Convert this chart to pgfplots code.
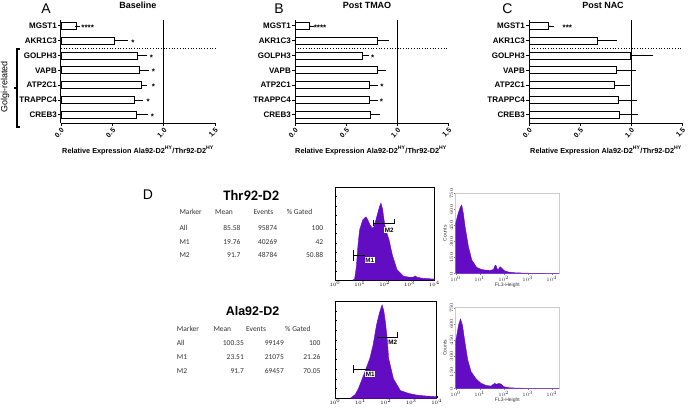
\documentclass[border=0pt]{standalone}
\usepackage{pgfplots}
\pgfplotsset{compat=1.18}
\usepackage{fontspec}
\setmainfont{Liberation Sans}
\newfontfamily\carl{Carlito}
\definecolor{purp}{RGB}{98,12,196}
\tikzset{sstar/.style={font=\fontsize{8}{9}\selectfont\bfseries, yshift=-1.8pt, inner sep=0pt},
 mlab/.style={fill=white, inner sep=0.7pt, font=\bfseries\fontsize{6.3}{6.3}\selectfont}}
\begin{document}
\begin{tikzpicture}
\path[use as bounding box] (0,0) rectangle (693pt,408pt);
\pgfplotsset{
 barpanel/.style={
  scale only axis, width=154pt, height=103pt, anchor=south west,
  xmin=0, xmax=1.5, ymin=-0.55, ymax=6.4,
  axis x line*=bottom, axis y line*=left,
  xtick={0,0.5,1,1.5}, xticklabels={0.0,0.5,1.0,1.5},
  ytick={0,...,6}, yticklabels={CREB3,TRAPPC4,ATP2C1,VAPB,GOLPH3,AKR1C3,MGST1},
  tick align=outside, major tick length=3pt,
  tick style={black, line width=0.9pt},
  axis line style={line width=1pt, -},
  x tick label style={rotate=45, anchor=north east, font=\fontsize{7}{8}\selectfont\bfseries, inner sep=1pt},
  y tick label style={font=\fontsize{8}{9}\selectfont\bfseries, inner sep=1pt},
  clip=false},
 bars/.style={xbar, bar width=0.48, fill=white, draw=black, line width=0.9pt,
  error bars/.cd, x dir=plus, x explicit,
  error bar style={line width=0.8pt, black},
  error mark options={black, mark size=2.2pt, line width=0.8pt}},
 lhist/.style={scale only axis, anchor=south west, xmin=0, xmax=4, ymin=0, ymax=100,
  xtick={0,...,4}, xticklabels={$10^0$,$10^1$,$10^2$,$10^3$,$10^4$},
  ytick={10,20,...,90}, yticklabels={}, ytick pos=left, xtick pos=bottom,
  tick align=inside, major tick length=2pt, tick style={black, line width=0.4pt},
  axis line style={black, line width=0.6pt},
  x tick label style={font=\fontsize{5.5}{6}\selectfont, inner sep=1pt}},
 rhist/.style={scale only axis, anchor=south west, xmin=0, xmax=4.3, ymin=0, ymax=750,
  xtick={0,...,4}, xticklabels={$10^0$,$10^1$,$10^2$,$10^3$,$10^4$},
  ytick={0,150,...,750}, ytick pos=left, xtick pos=bottom,
  tick align=outside, major tick length=1.5pt, tick style={gray, line width=0.3pt},
  axis line style={gray!40, line width=0.5pt},
  x tick label style={font=\fontsize{5}{5.5}\selectfont, text=black!80, inner sep=0.8pt},
  y tick label style={font=\fontsize{5}{5.5}\selectfont, text=black!80, rotate=90, anchor=south, inner sep=0.8pt},
  xlabel={FL3-Height}, ylabel={Counts},
  label style={font=\fontsize{5}{5.5}\selectfont, text=black!80},
  xlabel style={yshift=2.5pt}, ylabel style={yshift=-1pt}},
}
% ---------- Panel A ----------
\begin{axis}[barpanel, at={(61pt,285pt)}]
\addplot[bars] coordinates {(0.15,6) +- (0.012,0) (0.52,5) +- (0.11,0) (0.745,4) +- (0.075,0) (0.76,3) +- (0.08,0) (0.78,2) +- (0.04,0) (0.72,1) +- (0.06,0) (0.735,0) +- (0.095,0)};
\draw[line width=1.1pt] (axis cs:1,-0.55) -- (axis cs:1,6.4);
\draw[dotted, line width=0.7pt] (axis cs:0,4.5) -- (axis cs:1.5,4.5);
\node[sstar] at (axis cs:0.26,6) {****};
\node[sstar] at (axis cs:0.70,5) {*};
\node[sstar] at (axis cs:0.88,4) {*};
\node[sstar] at (axis cs:0.90,3) {*};
\node[sstar] at (axis cs:0.90,2) {*};
\node[sstar] at (axis cs:0.85,1) {*};
\node[sstar] at (axis cs:0.89,0) {*};
\end{axis}
% ---------- Panel B ----------
\begin{axis}[barpanel, at={(295pt,285pt)}, width=153.5pt]
\addplot[bars] coordinates {(0.14,6) +- (0.02,0) (0.805,5) +- (0.088,0) (0.655,4) +- (0.045,0) (0.805,3) +- (0.065,0) (0.725,2) +- (0.06,0) (0.725,1) +- (0.065,0) (0.742,0) +- (0.07,0)};
\draw[line width=1.1pt] (axis cs:1,-0.55) -- (axis cs:1,6.4);
\draw[dotted, line width=0.7pt] (axis cs:0,4.5) -- (axis cs:1.5,4.5);
\node[sstar] at (axis cs:0.245,6) {****};
\node[sstar] at (axis cs:0.76,4) {*};
\node[sstar] at (axis cs:0.85,2) {*};
\node[sstar] at (axis cs:0.845,1) {*};
\end{axis}
% ---------- Panel C ----------
\begin{axis}[barpanel, at={(529pt,285pt)}, width=153.3pt]
\addplot[bars] coordinates {(0.19,6) +- (0.03,0) (0.67,5) +- (0.17,0) (0.99,4) +- (0.2,0) (0.86,3) +- (0.17,0) (0.835,2) +- (0.13,0) (0.88,1) +- (0.16,0) (0.886,0) +- (0.16,0)};
\draw[line width=1.1pt] (axis cs:1,-0.55) -- (axis cs:1,6.4);
\draw[dotted, line width=0.7pt] (axis cs:0,4.5) -- (axis cs:1.5,4.5);
\node[sstar] at (axis cs:0.375,6) {***};
\end{axis}
% titles, letters, x labels
\node[font=\fontsize{14}{15}\selectfont] at (46pt,399.5pt) {A};
\node[font=\fontsize{14}{15}\selectfont] at (279pt,399.5pt) {B};
\node[font=\fontsize{14}{15}\selectfont] at (507.5pt,399.5pt) {C};
\node[font=\fontsize{9}{10}\selectfont\bfseries] at (137.8pt,403pt) {Baseline};
\node[font=\fontsize{9}{10}\selectfont\bfseries] at (367pt,403pt) {Post TMAO};
\node[font=\fontsize{9}{10}\selectfont\bfseries] at (603pt,403pt) {Post NAC};
\foreach \cx in {138,371,606}{
 \node[font=\fontsize{7.3}{8}\selectfont\bfseries] at (\cx pt,257.5pt) {Relative Expression Ala92-D2\textsuperscript{HY}/Thr92-D2\textsuperscript{HY}};
}
% Golgi bracket
\draw[line width=1.3pt] (20pt,359pt) -- (17pt,359pt) -- (17pt,281pt) -- (20pt,281pt);
\draw[line width=1.3pt] (17pt,320pt) -- (13.5pt,320pt);
\node[rotate=90, font=\fontsize{9}{10}\selectfont] at (5pt,321pt) {Golgi-related};
% ---------- Panel D text ----------
\node[font=\fontsize{14}{15}\selectfont] at (148pt,213pt) {D};
\node[font=\carl\bfseries\fontsize{14.5}{15}\selectfont] at (251.3pt,213pt) {Thr92-D2};
\node[font=\bfseries\fontsize{12.5}{13}\selectfont] at (252.5pt,97.2pt) {Ala92-D2};
\begin{scope}[every node/.style={font=\carl\fontsize{7.5}{8}\selectfont, inner sep=0pt, text=black!80}]
 \node[anchor=west] at (179.3pt,196.3pt) {Marker};
 \node[anchor=west] at (215pt,196.3pt) {Mean};
 \node[anchor=west] at (253.3pt,196.3pt) {Events};
 \node[anchor=west] at (286.7pt,196.3pt) {\% Gated};
 \node[anchor=west] at (179.3pt,179.7pt) {All};
 \node[anchor=west] at (179.3pt,166.3pt) {M1};
 \node[anchor=west] at (179.3pt,153pt) {M2};
 \node[anchor=east] at (240.7pt,179.7pt) {85.58};
 \node[anchor=east] at (240.7pt,166.3pt) {19.76};
 \node[anchor=east] at (240.7pt,153pt) {91.7};
 \node[anchor=east] at (277.3pt,179.7pt) {95874};
 \node[anchor=east] at (277.3pt,166.3pt) {40269};
 \node[anchor=east] at (277.3pt,153pt) {48784};
 \node[anchor=east] at (323.3pt,179.7pt) {100};
 \node[anchor=east] at (323.3pt,166.3pt) {42};
 \node[anchor=east] at (323.3pt,153pt) {50.88};
 \node[anchor=west] at (176.7pt,78.7pt) {Marker};
 \node[anchor=west] at (213.3pt,78.7pt) {Mean};
 \node[anchor=west] at (246pt,78.7pt) {Events};
 \node[anchor=west] at (285pt,78.7pt) {\% Gated};
 \node[anchor=west] at (176.7pt,64.7pt) {All};
 \node[anchor=west] at (176.7pt,50.7pt) {M1};
 \node[anchor=west] at (176.7pt,37.3pt) {M2};
 \node[anchor=east] at (244pt,64.7pt) {100.35};
 \node[anchor=east] at (244pt,50.7pt) {23.51};
 \node[anchor=east] at (244pt,37.3pt) {91.7};
 \node[anchor=east] at (284pt,64.7pt) {99149};
 \node[anchor=east] at (284pt,50.7pt) {21075};
 \node[anchor=east] at (284pt,37.3pt) {69457};
 \node[anchor=east] at (320.7pt,64.7pt) {100};
 \node[anchor=east] at (320.7pt,50.7pt) {21.26};
 \node[anchor=east] at (320.7pt,37.3pt) {70.05};
\end{scope}
% ---------- Histograms left ----------
\begin{axis}[lhist, at={(335pt,128pt)}, width=99.3pt, height=92.7pt]
\addplot[fill=purp, draw=purp] coordinates {(0.72,0) (0.79,1) (0.86,14) (0.92,36) (0.99,54) (1.12,65) (1.2,67) (1.25,68) (1.32,65) (1.4,60) (1.5,56) (1.56,57) (1.63,63) (1.7,70) (1.78,78) (1.85,83) (1.92,76) (2.0,60) (2.05,54) (2.18,43) (2.31,27) (2.5,11) (2.77,4) (3.0,3) (3.15,3) (3.23,4.5) (3.3,3) (3.5,2) (4.0,1)} \closedcycle;
\draw[line width=0.7pt] (axis cs:0.73,21) -- (axis cs:0.73,32);
\draw[line width=0.7pt] (axis cs:0.73,27) -- (axis cs:1.19,27);
\node[mlab] at (axis cs:1.40,21.6) {M1};
\draw[line width=0.7pt] (axis cs:1.56,58) -- (axis cs:1.56,65);
\draw[line width=0.7pt] (axis cs:1.56,61) -- (axis cs:2.38,61) -- (axis cs:2.38,65.5);
\node[mlab] at (axis cs:2.19,54) {M2};
\end{axis}
\begin{axis}[lhist, at={(335pt,9.7pt)}, width=101.7pt, height=97.3pt]
\addplot[fill=purp, draw=purp] coordinates {(0.6,0) (0.8,4) (0.92,10) (1.1,22) (1.37,41) (1.5,55) (1.63,75) (1.75,88) (1.85,96) (1.92,90) (1.98,79) (2.05,62) (2.11,41) (2.3,20) (2.57,8) (2.9,5) (3.2,3.4) (3.5,2.5) (4.0,1.7)} \closedcycle;
\draw[line width=0.7pt] (axis cs:0.73,26) -- (axis cs:0.73,34);
\draw[line width=0.7pt] (axis cs:0.73,30) -- (axis cs:1.37,30);
\node[mlab] at (axis cs:1.39,24.7) {M1};
\draw[line width=0.7pt] (axis cs:1.65,62.7) -- (axis cs:2.44,62.7) -- (axis cs:2.44,68);
\node[mlab] at (axis cs:2.27,57.5) {M2};
\end{axis}
% ---------- Histograms right ----------
\begin{axis}[rhist, at={(455.7pt,134.7pt)}, width=103.3pt, height=80pt]
\addplot[fill=purp, draw=purp] coordinates {(0,469) (0.1,560) (0.2,625) (0.25,640) (0.32,560) (0.39,437) (0.53,250) (0.67,125) (0.87,56) (1.05,38) (1.22,30) (1.45,28) (1.57,35) (1.63,70) (1.67,78) (1.72,45) (1.76,32) (1.85,62) (1.95,40) (2.04,22) (2.2,12) (2.47,5) (3.0,1) (4.3,0)} \closedcycle;
\end{axis}
\begin{axis}[rhist, at={(455.7pt,19.7pt)}, width=103.3pt, height=80.6pt]
\addplot[fill=purp, draw=purp] coordinates {(0,440) (0.05,500) (0.12,590) (0.2,645) (0.28,590) (0.36,465) (0.5,265) (0.64,155) (0.84,90) (1.05,47) (1.25,28) (1.47,20) (1.55,35) (1.62,45) (1.7,38) (1.8,45) (1.9,38) (2.0,15) (2.2,6) (2.5,2) (3.0,0) (4.3,0)} \closedcycle;
\end{axis}
\end{tikzpicture}
\end{document}
